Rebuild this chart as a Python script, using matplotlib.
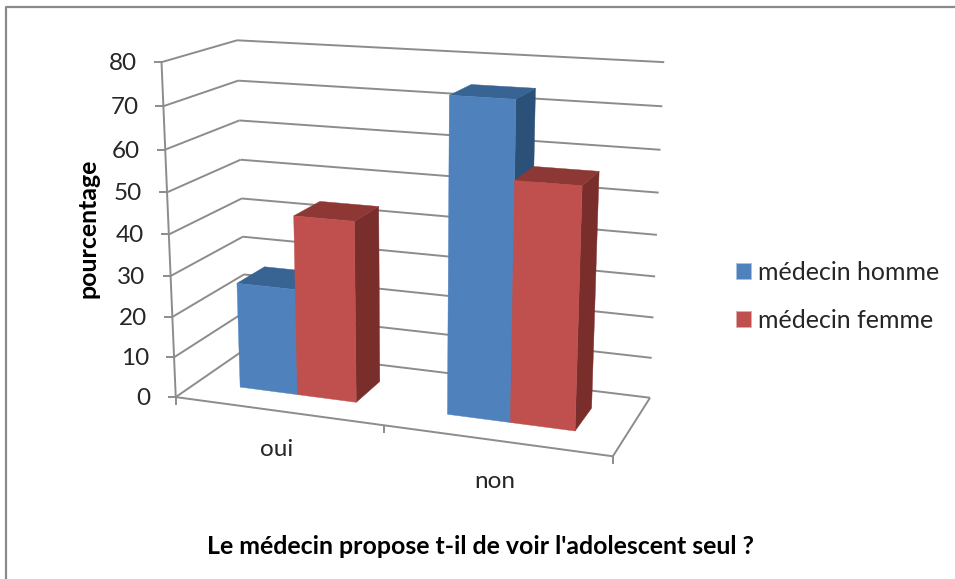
import numpy as np
import matplotlib
matplotlib.use("Agg")
import matplotlib.pyplot as plt
from matplotlib.patches import Patch, Polygon

plt.rcParams['font.family'] = ['Lato', 'DejaVu Sans']

categories = ['oui', 'non']
series_names = ['médecin homme', 'médecin femme']
homme = [26.2, 74.4]
femme = [44, 56.5]
yticks = [0, 10, 20, 30, 40, 50, 60, 70, 80]

GRID = '#8c8c8c'
TEXT = '#262626'
# front, side, top shades
BLUE = ('#4f81bd', '#2c5178', '#386494')
RED = ('#c0504d', '#7a2e2c', '#8e3835')

# box corner (u along categories, d depth, v value) -> where it sits in the image
calib = [
    ((0, 0, 0), (175, 397)), ((1, 0, 0), (613, 456)),
    ((1, 1, 0), (650, 398)), ((0, 1, 0), (247, 348)),
    ((0, 0, 80), (162, 62)), ((0, 1, 80), (237, 40)),
    ((1, 1, 80), (664, 62)), ((0, 0, 40), (169, 235)),
    ((1, 1, 40), (657, 235)), ((0, 1, 40), (241, 199)),
]
rows, rhs = [], []
for (u, d, v), (px, py) in calib:
    v = v / 80
    rows.append([u, d, v, 1, 0, 0, 0, 0, -px * u, -px * d, -px * v])
    rhs.append(px)
    rows.append([0, 0, 0, 0, u, d, v, 1, -py * u, -py * d, -py * v])
    rhs.append(py)
p = np.linalg.lstsq(np.array(rows, float), np.array(rhs, float), rcond=None)[0]


def proj(u, d, v):
    v = v / 80
    w = p[8] * u + p[9] * d + p[10] * v + 1
    return ((p[0] * u + p[1] * d + p[2] * v + p[3]) / w,
            (p[4] * u + p[5] * d + p[6] * v + p[7]) / w)


fig = plt.figure(figsize=(9.55, 5.79), dpi=100)
ax = fig.add_axes([0, 0, 1, 1])
ax.set_xlim(0, 955)
ax.set_ylim(579, 0)
ax.axis('off')

# chart frame, only left and top show in the picture
ax.plot([6, 6, 955], [579, 7, 7], color='#8a8a8a', lw=1.6)


def line(a, b, lw=1.4):
    ax.plot(*zip(a, b), color=GRID, lw=lw, solid_capstyle='butt')


# walls
for t in yticks:
    line(proj(0, 0, t), proj(0, 1, t))
    line(proj(0, 1, t), proj(1, 1, t))
    x, y = proj(0, 0, t)
    line((x - 8, y), (x, y))
    ax.text(x - 25, y + 1.5, str(t), ha='right', va='center', fontsize=17.5, color=TEXT)
line(proj(0, 0, 0), proj(0, 0, 80))

# floor
line(proj(0, 0, 0), proj(1, 0, 0))
line(proj(1, 0, 0), proj(1, 1, 0))
for u in [0, 0.5, 1]:
    x, y = proj(u, 0, 0)
    line((x, y), (x, y + 8))


def bar(u0, u1, val, shades):
    d0, d1 = 0.3, 0.7
    front = [proj(u0, d0, 0), proj(u1, d0, 0), proj(u1, d0, val), proj(u0, d0, val)]
    side = [proj(u1, d0, 0), proj(u1, d1, 0), proj(u1, d1, val), proj(u1, d0, val)]
    top = [proj(u0, d0, val), proj(u1, d0, val), proj(u1, d1, val), proj(u0, d1, val)]
    for poly, c in zip((side, top, front), (shades[1], shades[2], shades[0])):
        ax.add_patch(Polygon(poly, closed=True, fc=c, ec=c, lw=0.3, zorder=3))


# Excel defaults: gap width and gap depth 150 %
n = len(categories)
w = 1 / n
b = w / 3.5
for i in range(n):
    start = i * w + 0.75 * b
    bar(start, start + b, homme[i], BLUE)
    bar(start + b, start + 2 * b, femme[i], RED)
    x, y = proj((i + 0.5) * w, 0, 0)
    ax.text(x - 1, y + 39 + i * 2, categories[i], ha='center', va='center', fontsize=17.5, color=TEXT)

ax.text(88, 228, 'pourcentage', rotation=90, ha='center', va='center',
        fontsize=17.9, fontweight='bold', color='black')
ax.text(480, 546, "Le médecin propose t-il de voir l'adolescent seul ?", ha='center',
        va='center', fontsize=17.9, fontweight='bold', color='black')

handles = [Patch(fc=BLUE[0], ec='#a9c2e0', lw=0.5), Patch(fc=RED[0], ec='#e0aaa9', lw=0.5)]
ax.legend(handles, series_names, loc='center left', bbox_to_anchor=(0.7707, 0.4875), frameon=False,
          fontsize=18, labelcolor=TEXT, handlelength=0.6, handleheight=0.6,
          handletextpad=0.28, labelspacing=1.0, borderpad=0, borderaxespad=0)

fig.savefig('out.png', dpi=100)
